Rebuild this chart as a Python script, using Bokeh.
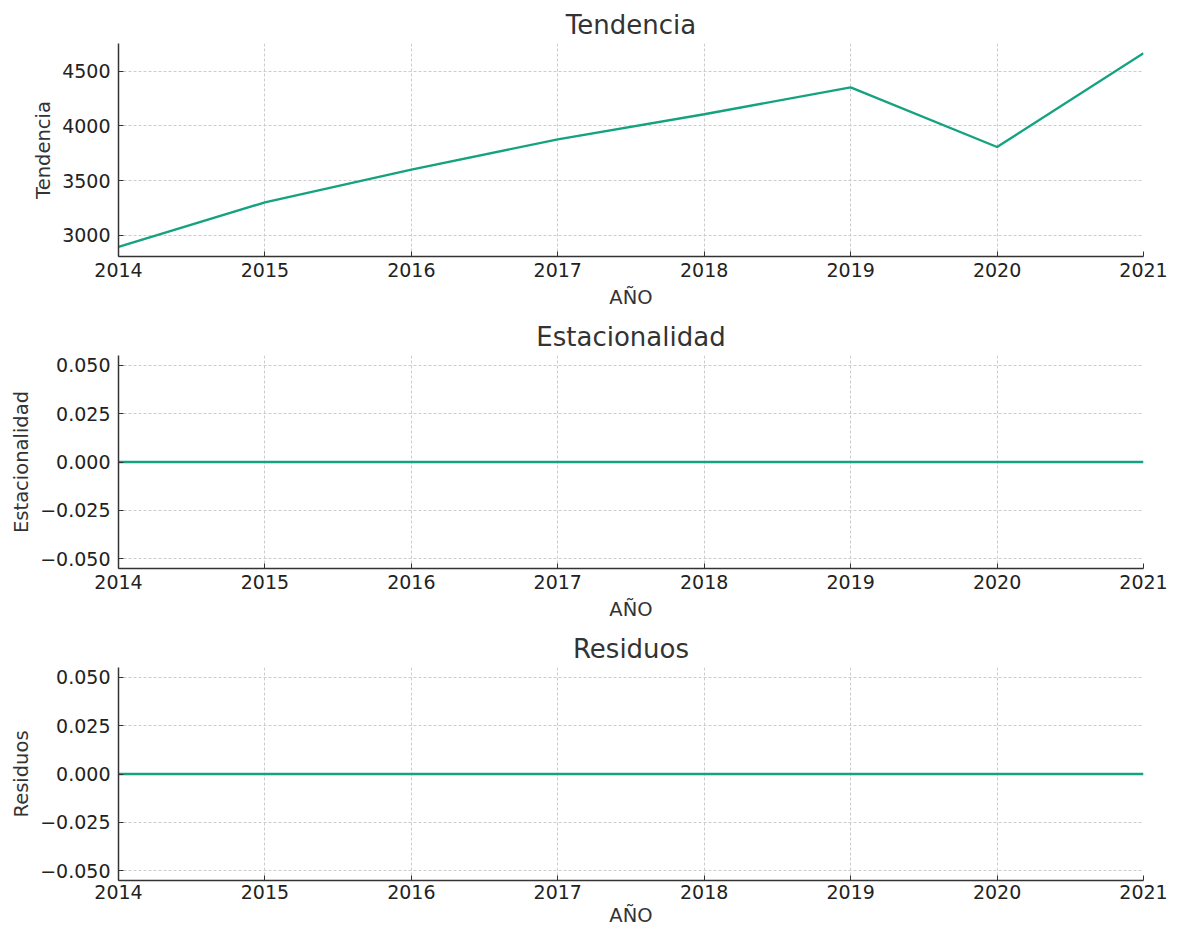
from bokeh.plotting import figure
from bokeh.layouts import column
from bokeh.models import Range1d, FixedTicker
from bokeh.embed import file_html
from bokeh.resources import INLINE

years = [2014, 2015, 2016, 2017, 2018, 2019, 2020, 2021]
tendencia = [2893, 3300, 3600, 3877, 4107, 4353, 3807, 4666]
estacionalidad = [0, 0, 0, 0, 0, 0, 0, 0]
residuos = [0, 0, 0, 0, 0, 0, 0, 0]

trend_ticks = [3000, 3500, 4000, 4500]
zero_ticks = [-0.05, -0.025, 0.0, 0.025, 0.05]
zero_labels = {-0.05: "\u22120.050", -0.025: "\u22120.025", 0.0: "0.000", 0.025: "0.025", 0.05: "0.050"}

FONT = "DejaVu Sans"
LINE = "#15a27f"
W = 1178


def make_panel(title, ylabel, values, yrange, yticks, overrides, height, top, bottom,
               xl_standoff=6, xa_standoff=6):
    p = figure(width=W, height=height, output_backend="svg", toolbar_location=None,
               x_range=Range1d(years[0], years[-1]), y_range=Range1d(*yrange),
               min_border_left=118, min_border_right=35, min_border_top=top,
               min_border_bottom=bottom, title=title)
    p.line(years, values, line_color=LINE, line_width=2.4)
    p.outline_line_color = None
    p.title.align = "center"
    p.title.text_font = FONT
    p.title.text_font_size = "26px"
    p.title.text_font_style = "normal"
    p.title.text_color = "#333333"
    p.title.standoff = 7
    p.xaxis.ticker = FixedTicker(ticks=years)
    p.yaxis.ticker = FixedTicker(ticks=yticks)
    if overrides:
        p.yaxis.major_label_overrides = overrides
    p.xaxis.axis_label = "AÑO"
    p.yaxis.axis_label = ylabel
    for ax in (p.xaxis, p.yaxis):
        ax.axis_line_color = "#333333"
        ax.axis_line_width = 1.5
        ax.major_tick_line_color = "#333333"
        ax.major_tick_in = 5
        ax.major_tick_out = 0
        ax.minor_tick_line_color = None
        ax.major_label_text_font = FONT
        ax.major_label_text_font_size = "19px"
        ax.major_label_text_color = "#222222"
        ax.axis_label_text_font = FONT
        ax.axis_label_text_font_size = "19.5px"
        ax.axis_label_text_font_style = "normal"
        ax.axis_label_text_color = "#333333"
    p.xaxis.major_label_standoff = xl_standoff
    p.yaxis.major_label_standoff = 8
    p.xaxis.axis_label_standoff = xa_standoff
    p.yaxis.axis_label_standoff = 4
    p.grid.grid_line_color = "#cccccc"
    p.grid.grid_line_dash = "3 2"
    p.grid.grid_line_width = 1
    return p


p1 = make_panel("Tendencia", "Tendencia", tendencia, (2804, 4755), trend_ticks, None, 315, 43, 59, 6, 6)
p2 = make_panel("Estacionalidad", "Estacionalidad", estacionalidad, (-0.055, 0.055), zero_ticks, zero_labels, 312, 40, 59, 6, 6)
p3 = make_panel("Residuos", "Residuos", residuos, (-0.055, 0.055), zero_ticks, zero_labels, 304, 40, 51, 4, 2)

layout = column(p1, p2, p3, spacing=0)
open("out.html", "w").write(file_html(layout, INLINE))
